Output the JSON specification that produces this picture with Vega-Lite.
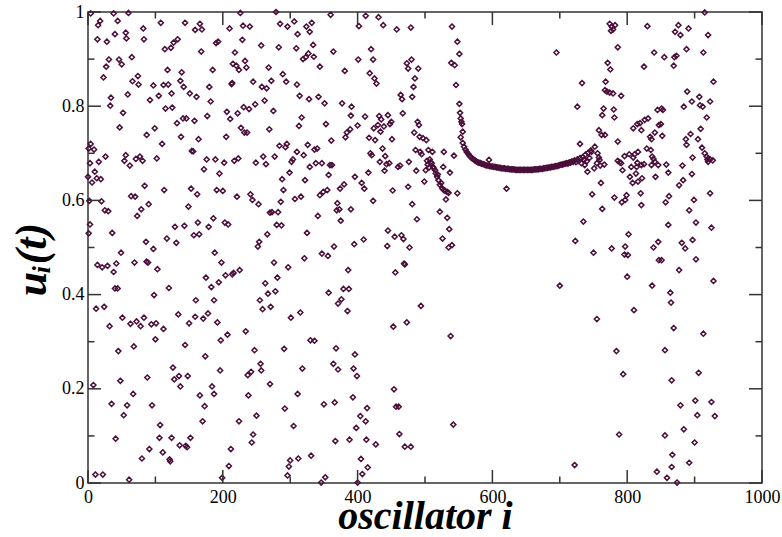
{
  "$schema": "https://vega.github.io/schema/vega-lite/v6.json",
  "width": 674,
  "height": 471,
  "autosize": "none",
  "padding": {"left": 88, "top": 12, "right": 20, "bottom": 54},
  "background": "white",
  "config": {
    "view": {"stroke": "#333333", "strokeWidth": 1.5},
    "axis": {
      "domain": false,
      "grid": false,
      "ticks": false,
      "labelFont": "Liberation Serif",
      "labelFontSize": 18,
      "labelColor": "black",
      "labelOverlap": false,
      "labelFlush": false,
      "titleFont": "Liberation Serif",
      "titleFontSize": 40,
      "titleFontWeight": "bold",
      "titleFontStyle": "italic",
      "titleColor": "black"
    }
  },
  "datasets": {
    "xticks": [
      {"v":0,"major":true},{"v":100,"major":false},{"v":200,"major":true},{"v":300,"major":false},{"v":400,"major":true},{"v":500,"major":false},{"v":600,"major":true},{"v":700,"major":false},{"v":800,"major":true},{"v":900,"major":false},{"v":1000,"major":true}
    ],
    "yticks": [
      {"v":0,"major":true},{"v":0.1,"major":false},{"v":0.2,"major":true},{"v":0.3,"major":false},{"v":0.4,"major":true},{"v":0.5,"major":false},{"v":0.6,"major":true},{"v":0.7,"major":false},{"v":0.8,"major":true},{"v":0.9,"major":false},{"v":1,"major":true}
    ],
    "oscillators": [
      {"i":4,"u":0.997},{"i":38,"u":0.997},{"i":60,"u":0.998},{"i":18,"u":0.981},{"i":15,"u":0.972},{"i":44,"u":0.981},{"i":108,"u":0.977},{"i":144,"u":0.977},{"i":159,"u":0.962},{"i":166,"u":0.975},{"i":82,"u":0.965},{"i":14,"u":0.942},{"i":28,"u":0.937},{"i":40,"u":0.953},{"i":56,"u":0.956},{"i":57,"u":0.944},{"i":83,"u":0.942},{"i":114,"u":0.921},{"i":123,"u":0.924},{"i":127,"u":0.935},{"i":133,"u":0.942},{"i":31,"u":0.899},{"i":46,"u":0.899},{"i":65,"u":0.904},{"i":27,"u":0.884},{"i":50,"u":0.889},{"i":118,"u":0.877},{"i":139,"u":0.872},{"i":23,"u":0.861},{"i":74,"u":0.864},{"i":66,"u":0.853},{"i":75,"u":0.846},{"i":97,"u":0.844},{"i":112,"u":0.845},{"i":119,"u":0.846},{"i":137,"u":0.854},{"i":142,"u":0.841},{"i":105,"u":0.822},{"i":34,"u":0.818},{"i":59,"u":0.825},{"i":124,"u":0.827},{"i":151,"u":0.827},{"i":161,"u":0.82},{"i":33,"u":0.801},{"i":92,"u":0.813},{"i":115,"u":0.795},{"i":125,"u":0.797},{"i":52,"u":0.786},{"i":141,"u":0.774},{"i":146,"u":0.774},{"i":132,"u":0.764},{"i":158,"u":0.769},{"i":47,"u":0.755},{"i":99,"u":0.753},{"i":87,"u":0.739},{"i":138,"u":0.735},{"i":164,"u":0.73},{"i":4,"u":0.72},{"i":1,"u":0.71},{"i":9,"u":0.708},{"i":110,"u":0.72},{"i":154,"u":0.705},{"i":156,"u":0.704},{"i":3,"u":0.679},{"i":16,"u":0.682},{"i":26,"u":0.693},{"i":56,"u":0.696},{"i":54,"u":0.684},{"i":71,"u":0.688},{"i":77,"u":0.693},{"i":81,"u":0.684},{"i":102,"u":0.689},{"i":10,"u":0.661},{"i":62,"u":0.674},{"i":13,"u":0.647},{"i":6,"u":0.638},{"i":19,"u":0.645},{"i":0,"u":0.65},{"i":84,"u":0.631},{"i":113,"u":0.622},{"i":153,"u":0.625},{"i":162,"u":0.613},{"i":64,"u":0.609},{"i":70,"u":0.608},{"i":2,"u":0.599},{"i":20,"u":0.598},{"i":25,"u":0.579},{"i":30,"u":0.577},{"i":90,"u":0.592},{"i":79,"u":0.581},{"i":73,"u":0.567},{"i":149,"u":0.587},{"i":163,"u":0.553},{"i":3,"u":0.549},{"i":129,"u":0.544},{"i":143,"u":0.546},{"i":157,"u":0.526},{"i":165,"u":0.528},{"i":1,"u":0.53},{"i":36,"u":0.531},{"i":86,"u":0.512},{"i":117,"u":0.519},{"i":131,"u":0.51},
      {"i":49,"u":0.489},{"i":97,"u":0.497},{"i":14,"u":0.463},{"i":21,"u":0.458},{"i":29,"u":0.461},{"i":38,"u":0.448},{"i":42,"u":0.466},{"i":69,"u":0.468},{"i":87,"u":0.47},{"i":89,"u":0.468},{"i":103,"u":0.454},{"i":40,"u":0.413},{"i":44,"u":0.413},{"i":120,"u":0.414},{"i":98,"u":0.399},{"i":12,"u":0.37},{"i":24,"u":0.374},{"i":160,"u":0.388},{"i":51,"u":0.351},{"i":32,"u":0.333},{"i":63,"u":0.338},{"i":72,"u":0.343},{"i":78,"u":0.333},{"i":83,"u":0.351},{"i":94,"u":0.337},{"i":101,"u":0.339},{"i":112,"u":0.327},{"i":134,"u":0.358},{"i":150,"u":0.339},{"i":159,"u":0.353},{"i":100,"u":0.305},{"i":45,"u":0.28},{"i":68,"u":0.29},{"i":144,"u":0.293},{"i":8,"u":0.208},{"i":48,"u":0.217},{"i":88,"u":0.224},{"i":126,"u":0.245},{"i":128,"u":0.22},{"i":135,"u":0.227},{"i":137,"u":0.205},{"i":148,"u":0.227},{"i":166,"u":0.186},{"i":35,"u":0.168},{"i":67,"u":0.189},{"i":58,"u":0.165},{"i":53,"u":0.144},{"i":95,"u":0.165},{"i":107,"u":0.123},{"i":41,"u":0.094},{"i":106,"u":0.096},{"i":124,"u":0.096},{"i":152,"u":0.096},{"i":91,"u":0.072},{"i":136,"u":0.08},{"i":145,"u":0.079},{"i":147,"u":0.076},{"i":111,"u":0.065},{"i":80,"u":0.052},{"i":121,"u":0.05},{"i":122,"u":0.046},{"i":11,"u":0.018},{"i":22,"u":0.018},{"i":61,"u":0.007},
      {"i":169,"u":0.963},{"i":226,"u":0.998},{"i":279,"u":1.0},{"i":210,"u":0.965},{"i":230,"u":0.971},{"i":240,"u":0.969},{"i":285,"u":0.975},{"i":296,"u":0.969},{"i":306,"u":0.98},{"i":324,"u":0.969},{"i":332,"u":0.977},{"i":329,"u":0.958},{"i":311,"u":0.953},{"i":193,"u":0.937},{"i":190,"u":0.934},{"i":168,"u":0.916},{"i":229,"u":0.941},{"i":257,"u":0.929},{"i":283,"u":0.925},{"i":218,"u":0.914},{"i":309,"u":0.923},{"i":334,"u":0.93},{"i":327,"u":0.912},{"i":319,"u":0.9},{"i":323,"u":0.904},{"i":335,"u":0.905},{"i":215,"u":0.89},{"i":220,"u":0.886},{"i":233,"u":0.896},{"i":235,"u":0.882},{"i":224,"u":0.877},{"i":185,"u":0.877},{"i":268,"u":0.882},{"i":289,"u":0.868},{"i":245,"u":0.852},{"i":272,"u":0.854},{"i":294,"u":0.852},{"i":310,"u":0.846},{"i":213,"u":0.847},{"i":214,"u":0.849},{"i":180,"u":0.841},{"i":258,"u":0.841},{"i":265,"u":0.838},{"i":314,"u":0.822},{"i":328,"u":0.815},{"i":182,"u":0.81},{"i":262,"u":0.812},{"i":248,"u":0.804},{"i":231,"u":0.798},{"i":239,"u":0.794},{"i":177,"u":0.779},{"i":206,"u":0.788},{"i":222,"u":0.785},{"i":211,"u":0.773},{"i":275,"u":0.79},{"i":317,"u":0.776},{"i":313,"u":0.758},{"i":227,"u":0.754},{"i":232,"u":0.744},{"i":236,"u":0.744},{"i":269,"u":0.751},{"i":205,"u":0.735},{"i":284,"u":0.716},{"i":295,"u":0.72},{"i":293,"u":0.713},{"i":310,"u":0.703},{"i":326,"u":0.718},{"i":336,"u":0.708},{"i":304,"u":0.687},{"i":302,"u":0.682},{"i":176,"u":0.687},{"i":189,"u":0.687},{"i":202,"u":0.68},{"i":217,"u":0.684},{"i":223,"u":0.689},{"i":249,"u":0.68},{"i":260,"u":0.693},{"i":264,"u":0.677},{"i":277,"u":0.693},{"i":320,"u":0.696},{"i":329,"u":0.671},{"i":172,"u":0.666},{"i":195,"u":0.657},{"i":299,"u":0.659},{"i":288,"u":0.645},{"i":322,"u":0.643},{"i":191,"u":0.622},{"i":200,"u":0.62},{"i":221,"u":0.608},{"i":241,"u":0.613},{"i":244,"u":0.601},{"i":253,"u":0.592},{"i":290,"u":0.622},{"i":286,"u":0.597},{"i":307,"u":0.603},{"i":316,"u":0.608},{"i":270,"u":0.574},{"i":273,"u":0.575},{"i":282,"u":0.575},{"i":280,"u":0.548},{"i":287,"u":0.547},{"i":186,"u":0.562},{"i":179,"u":0.544},{"i":203,"u":0.553},{"i":208,"u":0.549},{"i":254,"u":0.512},{"i":252,"u":0.502},{"i":266,"u":0.528},{"i":325,"u":0.531},
      {"i":188,"u":0.489},{"i":198,"u":0.468},{"i":276,"u":0.468},{"i":321,"u":0.477},{"i":297,"u":0.458},{"i":175,"u":0.436},{"i":183,"u":0.416},{"i":194,"u":0.426},{"i":204,"u":0.441},{"i":214,"u":0.443},{"i":216,"u":0.446},{"i":225,"u":0.452},{"i":187,"u":0.388},{"i":263,"u":0.424},{"i":281,"u":0.436},{"i":267,"u":0.402},{"i":278,"u":0.407},{"i":255,"u":0.388},{"i":259,"u":0.369},{"i":271,"u":0.374},{"i":171,"u":0.349},{"i":178,"u":0.36},{"i":192,"u":0.341},{"i":301,"u":0.351},{"i":315,"u":0.362},{"i":207,"u":0.315},{"i":197,"u":0.303},{"i":234,"u":0.322},{"i":330,"u":0.303},{"i":336,"u":0.302},{"i":247,"u":0.282},{"i":291,"u":0.285},{"i":174,"u":0.269},{"i":256,"u":0.253},{"i":257,"u":0.239},{"i":237,"u":0.229},{"i":242,"u":0.236},{"i":196,"u":0.239},{"i":318,"u":0.243},{"i":270,"u":0.21},{"i":184,"u":0.205},{"i":187,"u":0.189},{"i":238,"u":0.186},{"i":311,"u":0.189},{"i":173,"u":0.163},{"i":292,"u":0.158},{"i":170,"u":0.131},{"i":224,"u":0.131},{"i":250,"u":0.143},{"i":305,"u":0.121},{"i":245,"u":0.103},{"i":243,"u":0.086},{"i":212,"u":0.072},{"i":209,"u":0.036},{"i":300,"u":0.048},{"i":298,"u":0.035},{"i":312,"u":0.052},{"i":331,"u":0.058},{"i":199,"u":0.011},{"i":296,"u":0.016},
      {"i":360,"u":0.994},{"i":412,"u":0.992},{"i":431,"u":0.989},{"i":402,"u":0.97},{"i":438,"u":0.972},{"i":458,"u":0.963},{"i":479,"u":0.967},{"i":364,"u":0.916},{"i":401,"u":0.899},{"i":420,"u":0.921},{"i":423,"u":0.899},{"i":473,"u":0.891},{"i":480,"u":0.899},{"i":475,"u":0.88},{"i":490,"u":0.88},{"i":344,"u":0.884},{"i":381,"u":0.875},{"i":418,"u":0.87},{"i":425,"u":0.859},{"i":428,"u":0.848},{"i":485,"u":0.859},{"i":483,"u":0.841},{"i":342,"u":0.82},{"i":351,"u":0.806},{"i":377,"u":0.806},{"i":391,"u":0.799},{"i":464,"u":0.824},{"i":466,"u":0.815},{"i":481,"u":0.82},{"i":411,"u":0.778},{"i":390,"u":0.78},{"i":432,"u":0.779},{"i":435,"u":0.772},{"i":445,"u":0.781},{"i":450,"u":0.767},{"i":448,"u":0.762},{"i":467,"u":0.785},{"i":353,"u":0.762},{"i":400,"u":0.759},{"i":424,"u":0.753},{"i":430,"u":0.76},{"i":439,"u":0.757},{"i":434,"u":0.746},{"i":389,"u":0.751},{"i":384,"u":0.744},{"i":382,"u":0.734},{"i":361,"u":0.727},{"i":451,"u":0.73},{"i":417,"u":0.733},{"i":426,"u":0.728},{"i":489,"u":0.767},{"i":491,"u":0.76},{"i":484,"u":0.744},{"i":492,"u":0.735},{"i":497,"u":0.732},{"i":502,"u":0.728},{"i":437,"u":0.71},{"i":421,"u":0.696},{"i":419,"u":0.7},{"i":441,"u":0.694},{"i":340,"u":0.71},{"i":486,"u":0.707},{"i":493,"u":0.703},{"i":495,"u":0.698},{"i":505,"u":0.707},{"i":338,"u":0.679},{"i":347,"u":0.679},{"i":359,"u":0.675},{"i":362,"u":0.675},{"i":433,"u":0.682},{"i":443,"u":0.677},{"i":447,"u":0.679},{"i":460,"u":0.671},{"i":463,"u":0.674},{"i":476,"u":0.682},{"i":440,"u":0.663},{"i":416,"u":0.659},{"i":487,"u":0.663},{"i":501,"u":0.664},{"i":357,"u":0.654},{"i":396,"u":0.65},{"i":406,"u":0.637},{"i":410,"u":0.625},{"i":499,"u":0.64},{"i":344,"u":0.611},{"i":349,"u":0.618},{"i":355,"u":0.622},{"i":374,"u":0.625},{"i":380,"u":0.634},{"i":452,"u":0.621},{"i":475,"u":0.629},{"i":370,"u":0.594},{"i":373,"u":0.581},{"i":369,"u":0.579},{"i":390,"u":0.581},{"i":375,"u":0.557},{"i":423,"u":0.599},{"i":481,"u":0.592},{"i":488,"u":0.56},{"i":341,"u":0.567},{"i":445,"u":0.536},{"i":455,"u":0.523},{"i":465,"u":0.526},{"i":468,"u":0.518},{"i":409,"u":0.517},{"i":395,"u":0.507},{"i":365,"u":0.502},{"i":444,"u":0.503},{"i":477,"u":0.5},
      {"i":347,"u":0.487},{"i":356,"u":0.482},{"i":386,"u":0.452},{"i":469,"u":0.466},{"i":470,"u":0.464},{"i":456,"u":0.447},{"i":357,"u":0.404},{"i":379,"u":0.412},{"i":387,"u":0.412},{"i":376,"u":0.39},{"i":371,"u":0.381},{"i":385,"u":0.365},{"i":494,"u":0.376},{"i":453,"u":0.332},{"i":473,"u":0.341},{"i":368,"u":0.286},{"i":396,"u":0.273},{"i":364,"u":0.253},{"i":371,"u":0.241},{"i":394,"u":0.243},{"i":399,"u":0.227},{"i":454,"u":0.199},{"i":393,"u":0.182},{"i":350,"u":0.167},{"i":366,"u":0.171},{"i":414,"u":0.159},{"i":457,"u":0.162},{"i":461,"u":0.162},{"i":404,"u":0.142},{"i":412,"u":0.131},{"i":398,"u":0.117},{"i":462,"u":0.104},{"i":367,"u":0.089},{"i":388,"u":0.092},{"i":413,"u":0.092},{"i":427,"u":0.082},{"i":470,"u":0.077},{"i":479,"u":0.077},{"i":405,"u":0.051},{"i":415,"u":0.033},{"i":407,"u":0.019},{"i":352,"u":0.012},{"i":346,"u":0.001},{"i":400,"u":0.001},
      {"i":540,"u":0.969},{"i":548,"u":0.937},{"i":551,"u":0.911},{"i":539,"u":0.892},{"i":544,"u":0.887},{"i":546,"u":0.845},{"i":551,"u":0.805},{"i":552,"u":0.786},{"i":553,"u":0.774},{"i":554,"u":0.767},{"i":555,"u":0.762},{"i":556,"u":0.746},{"i":553,"u":0.734},{"i":511,"u":0.703},{"i":528,"u":0.703},{"i":543,"u":0.695},{"i":527,"u":0.671},{"i":537,"u":0.659},{"i":548,"u":0.615},{"i":531,"u":0.602},{"i":522,"u":0.576},{"i":533,"u":0.563},{"i":536,"u":0.539},{"i":526,"u":0.519},{"i":540,"u":0.505},{"i":535,"u":0.5},{"i":538,"u":0.312},{"i":542,"u":0.124},{"i":595,"u":0.686},{"i":621,"u":0.625},
      {"i":503,"u":0.684},{"i":504,"u":0.676},{"i":506,"u":0.67},{"i":507,"u":0.687},{"i":508,"u":0.681},{"i":510,"u":0.679},{"i":512,"u":0.671},{"i":513,"u":0.668},{"i":515,"u":0.664},{"i":516,"u":0.657},{"i":518,"u":0.65},{"i":519,"u":0.655},{"i":520,"u":0.643},{"i":522,"u":0.633},{"i":524,"u":0.637},{"i":526,"u":0.625},{"i":528,"u":0.622},{"i":530,"u":0.62},{"i":533,"u":0.618},{"i":535,"u":0.616},
      {"i":556,"u":0.722},{"i":558,"u":0.714},{"i":560,"u":0.708},{"i":562,"u":0.703},{"i":564,"u":0.699},{"i":566,"u":0.695},{"i":568,"u":0.692},{"i":570,"u":0.689},{"i":572,"u":0.687},{"i":574,"u":0.685},{"i":576,"u":0.683},{"i":578,"u":0.681},{"i":580,"u":0.68},{"i":582,"u":0.679},{"i":584,"u":0.678},{"i":586,"u":0.677},{"i":588,"u":0.676},{"i":590,"u":0.675},{"i":592,"u":0.674},{"i":594,"u":0.674},{"i":596,"u":0.673},{"i":598,"u":0.672},{"i":600,"u":0.672},{"i":602,"u":0.671},{"i":604,"u":0.671},{"i":606,"u":0.67},{"i":608,"u":0.67},{"i":610,"u":0.669},{"i":612,"u":0.669},{"i":614,"u":0.668},{"i":616,"u":0.668},{"i":618,"u":0.668},{"i":620,"u":0.667},{"i":622,"u":0.667},{"i":624,"u":0.667},{"i":626,"u":0.666},{"i":628,"u":0.666},{"i":630,"u":0.666},{"i":632,"u":0.666},{"i":634,"u":0.665},{"i":636,"u":0.665},{"i":638,"u":0.665},{"i":640,"u":0.665},{"i":642,"u":0.665},{"i":644,"u":0.665},{"i":646,"u":0.665},{"i":648,"u":0.665},{"i":650,"u":0.665},{"i":652,"u":0.665},{"i":654,"u":0.665},{"i":656,"u":0.665},{"i":658,"u":0.665},{"i":660,"u":0.665},{"i":662,"u":0.666},{"i":664,"u":0.666},{"i":666,"u":0.666},{"i":668,"u":0.666},{"i":670,"u":0.667},{"i":672,"u":0.667},{"i":674,"u":0.667},{"i":676,"u":0.668},{"i":678,"u":0.668},{"i":680,"u":0.669},{"i":682,"u":0.669},{"i":684,"u":0.67},{"i":686,"u":0.67},{"i":688,"u":0.671},{"i":690,"u":0.671},{"i":692,"u":0.672},{"i":694,"u":0.673},{"i":696,"u":0.673},{"i":698,"u":0.674},{"i":700,"u":0.675},{"i":702,"u":0.676},{"i":704,"u":0.676},{"i":706,"u":0.677},{"i":708,"u":0.678},{"i":710,"u":0.679},{"i":712,"u":0.678},{"i":714,"u":0.681},{"i":716,"u":0.68},{"i":718,"u":0.683},{"i":720,"u":0.682},{"i":722,"u":0.685},{"i":724,"u":0.681},{"i":726,"u":0.687},{"i":728,"u":0.684},{"i":730,"u":0.69},{"i":732,"u":0.679},{"i":734,"u":0.692},{"i":736,"u":0.686},{"i":738,"u":0.697},{"i":740,"u":0.683},{"i":742,"u":0.701},{"i":744,"u":0.69},{"i":746,"u":0.706},
      {"i":774,"u":0.975},{"i":777,"u":0.969},{"i":779,"u":0.963},{"i":782,"u":0.972},{"i":776,"u":0.96},{"i":830,"u":0.97},{"i":695,"u":0.914},{"i":786,"u":0.925},{"i":840,"u":0.914},{"i":771,"u":0.892},{"i":775,"u":0.878},{"i":825,"u":0.884},{"i":733,"u":0.849},{"i":768,"u":0.852},{"i":767,"u":0.834},{"i":770,"u":0.831},{"i":774,"u":0.829},{"i":779,"u":0.827},{"i":791,"u":0.822},{"i":726,"u":0.799},{"i":765,"u":0.795},{"i":780,"u":0.793},{"i":763,"u":0.781},{"i":781,"u":0.776},{"i":845,"u":0.792},{"i":758,"u":0.749},{"i":762,"u":0.739},{"i":767,"u":0.739},{"i":809,"u":0.753},{"i":815,"u":0.762},{"i":819,"u":0.764},{"i":826,"u":0.771},{"i":831,"u":0.774},{"i":821,"u":0.749},{"i":834,"u":0.735},{"i":836,"u":0.73},{"i":841,"u":0.744},{"i":847,"u":0.76},{"i":730,"u":0.72},{"i":786,"u":0.725},{"i":752,"u":0.714},{"i":747,"u":0.703},{"i":756,"u":0.7},{"i":758,"u":0.691},{"i":759,"u":0.686},{"i":755,"u":0.679},{"i":760,"u":0.674},{"i":766,"u":0.676},{"i":751,"u":0.668},{"i":741,"u":0.661},{"i":737,"u":0.675},{"i":786,"u":0.684},{"i":789,"u":0.681},{"i":791,"u":0.679},{"i":796,"u":0.694},{"i":803,"u":0.698},{"i":809,"u":0.691},{"i":811,"u":0.698},{"i":816,"u":0.703},{"i":815,"u":0.68},{"i":814,"u":0.671},{"i":821,"u":0.675},{"i":825,"u":0.677},{"i":829,"u":0.71},{"i":835,"u":0.707},{"i":837,"u":0.693},{"i":839,"u":0.688},{"i":841,"u":0.682},{"i":846,"u":0.675},{"i":836,"u":0.675},{"i":842,"u":0.65},{"i":806,"u":0.671},{"i":793,"u":0.664},{"i":813,"u":0.657},{"i":804,"u":0.65},{"i":808,"u":0.637},{"i":822,"u":0.647},{"i":816,"u":0.64},{"i":761,"u":0.637},{"i":748,"u":0.613},{"i":781,"u":0.606},{"i":792,"u":0.596},{"i":797,"u":0.601},{"i":799,"u":0.611},{"i":820,"u":0.615},{"i":821,"u":0.59},{"i":763,"u":0.582},{"i":735,"u":0.555},{"i":802,"u":0.528},{"i":723,"u":0.514},{"i":777,"u":0.498},{"i":797,"u":0.502},{"i":839,"u":0.5},{"i":846,"u":0.512},
      {"i":750,"u":0.489},{"i":796,"u":0.485},{"i":801,"u":0.484},{"i":700,"u":0.419},{"i":800,"u":0.438},{"i":837,"u":0.419},{"i":847,"u":0.473},{"i":810,"u":0.367},{"i":755,"u":0.348},{"i":784,"u":0.28},{"i":794,"u":0.231},{"i":788,"u":0.103},{"i":722,"u":0.038},{"i":844,"u":0.024},
      {"i":915,"u":0.999},{"i":876,"u":0.972},{"i":871,"u":0.958},{"i":879,"u":0.951},{"i":891,"u":0.965},{"i":920,"u":0.951},{"i":855,"u":0.904},{"i":870,"u":0.904},{"i":873,"u":0.907},{"i":869,"u":0.886},{"i":888,"u":0.921},{"i":913,"u":0.914},{"i":928,"u":0.852},{"i":889,"u":0.831},{"i":884,"u":0.799},{"i":896,"u":0.81},{"i":907,"u":0.82},{"i":908,"u":0.802},{"i":912,"u":0.799},{"i":923,"u":0.81},{"i":918,"u":0.776},{"i":851,"u":0.795},{"i":853,"u":0.792},{"i":850,"u":0.762},{"i":852,"u":0.737},{"i":887,"u":0.73},{"i":888,"u":0.718},{"i":894,"u":0.741},{"i":905,"u":0.73},{"i":909,"u":0.752},{"i":911,"u":0.712},{"i":897,"u":0.691},{"i":915,"u":0.7},{"i":918,"u":0.693},{"i":919,"u":0.687},{"i":923,"u":0.687},{"i":927,"u":0.685},{"i":920,"u":0.682},{"i":858,"u":0.676},{"i":861,"u":0.659},{"i":882,"u":0.674},{"i":896,"u":0.656},{"i":883,"u":0.643},{"i":877,"u":0.632},{"i":923,"u":0.615},{"i":862,"u":0.609},{"i":857,"u":0.596},{"i":899,"u":0.601},{"i":892,"u":0.579},{"i":902,"u":0.553},{"i":925,"u":0.542},{"i":861,"u":0.548},{"i":881,"u":0.51},{"i":897,"u":0.516},{"i":886,"u":0.498},
      {"i":851,"u":0.473},{"i":902,"u":0.475},{"i":877,"u":0.452},{"i":928,"u":0.429},{"i":864,"u":0.404},{"i":865,"u":0.383},{"i":869,"u":0.329},{"i":913,"u":0.317},{"i":856,"u":0.282},{"i":906,"u":0.234},{"i":866,"u":0.218},{"i":879,"u":0.165},{"i":901,"u":0.175},{"i":925,"u":0.172},{"i":904,"u":0.144},{"i":930,"u":0.142},{"i":884,"u":0.114},{"i":856,"u":0.101},{"i":900,"u":0.086},{"i":867,"u":0.06},{"i":892,"u":0.043},{"i":866,"u":0.034},{"i":859,"u":0.011},{"i":874,"u":0.001}
    ]
  },
  "layer": [
    {
      "data": {"name": "oscillators"},
      "mark": {"type": "point", "shape": "diamond", "size": 26, "filled": false, "strokeWidth": 1.5, "color": "#4a0f3a", "opacity": 1},
      "encoding": {
        "x": {
          "field": "i", "type": "quantitative",
          "scale": {"domain": [0, 1000], "nice": false, "zero": false},
          "axis": {
            "values": [0, 200, 400, 600, 800, 1000],
            "format": "d",
            "labelPadding": 5,
            "title": "oscillator i",
            "titleBaseline": "alphabetic",
            "titleY": 45
          }
        },
        "y": {
          "field": "u", "type": "quantitative",
          "scale": {"domain": [0, 1], "nice": false, "zero": false},
          "axis": {
            "values": [0, 0.2, 0.4, 0.6, 0.8, 1],
            "format": "~g",
            "labelPadding": 4,
            "title": "uᵢ(t)",
            "titleFontSize": 44,
            "titleBaseline": "alphabetic",
            "titleX": -43,
            "titleY": 247
          }
        }
      }
    },
    {
      "data": {"name": "xticks"},
      "transform": [{"filter": "datum.major"}],
      "mark": {"type": "tick", "orient": "vertical", "size": 13, "thickness": 1.5, "color": "#333333", "opacity": 1, "yOffset": -6.5},
      "encoding": {
        "x": {"field": "v", "type": "quantitative", "axis": null},
        "y": {"datum": 0, "type": "quantitative", "axis": null}
      }
    },
    {
      "data": {"name": "xticks"},
      "transform": [{"filter": "!datum.major"}],
      "mark": {"type": "tick", "orient": "vertical", "size": 6.5, "thickness": 1.5, "color": "#333333", "opacity": 1, "yOffset": -3.25},
      "encoding": {
        "x": {"field": "v", "type": "quantitative", "axis": null},
        "y": {"datum": 0, "type": "quantitative", "axis": null}
      }
    },
    {
      "data": {"name": "xticks"},
      "transform": [{"filter": "datum.major"}],
      "mark": {"type": "tick", "orient": "vertical", "size": 13, "thickness": 1.5, "color": "#333333", "opacity": 1, "yOffset": 6.5},
      "encoding": {
        "x": {"field": "v", "type": "quantitative", "axis": null},
        "y": {"datum": 1, "type": "quantitative", "axis": null}
      }
    },
    {
      "data": {"name": "xticks"},
      "transform": [{"filter": "!datum.major"}],
      "mark": {"type": "tick", "orient": "vertical", "size": 6.5, "thickness": 1.5, "color": "#333333", "opacity": 1, "yOffset": 3.25},
      "encoding": {
        "x": {"field": "v", "type": "quantitative", "axis": null},
        "y": {"datum": 1, "type": "quantitative", "axis": null}
      }
    },
    {
      "data": {"name": "yticks"},
      "transform": [{"filter": "datum.major"}],
      "mark": {"type": "tick", "orient": "horizontal", "size": 13, "thickness": 1.5, "color": "#333333", "opacity": 1, "xOffset": 6.5},
      "encoding": {
        "y": {"field": "v", "type": "quantitative", "axis": null},
        "x": {"datum": 0, "type": "quantitative", "axis": null}
      }
    },
    {
      "data": {"name": "yticks"},
      "transform": [{"filter": "!datum.major"}],
      "mark": {"type": "tick", "orient": "horizontal", "size": 6.5, "thickness": 1.5, "color": "#333333", "opacity": 1, "xOffset": 3.25},
      "encoding": {
        "y": {"field": "v", "type": "quantitative", "axis": null},
        "x": {"datum": 0, "type": "quantitative", "axis": null}
      }
    },
    {
      "data": {"name": "yticks"},
      "transform": [{"filter": "datum.major"}],
      "mark": {"type": "tick", "orient": "horizontal", "size": 13, "thickness": 1.5, "color": "#333333", "opacity": 1, "xOffset": -6.5},
      "encoding": {
        "y": {"field": "v", "type": "quantitative", "axis": null},
        "x": {"datum": 1000, "type": "quantitative", "axis": null}
      }
    },
    {
      "data": {"name": "yticks"},
      "transform": [{"filter": "!datum.major"}],
      "mark": {"type": "tick", "orient": "horizontal", "size": 6.5, "thickness": 1.5, "color": "#333333", "opacity": 1, "xOffset": -3.25},
      "encoding": {
        "y": {"field": "v", "type": "quantitative", "axis": null},
        "x": {"datum": 1000, "type": "quantitative", "axis": null}
      }
    }
  ],
  "resolve": {"axis": {"x": "independent", "y": "independent"}}
}
